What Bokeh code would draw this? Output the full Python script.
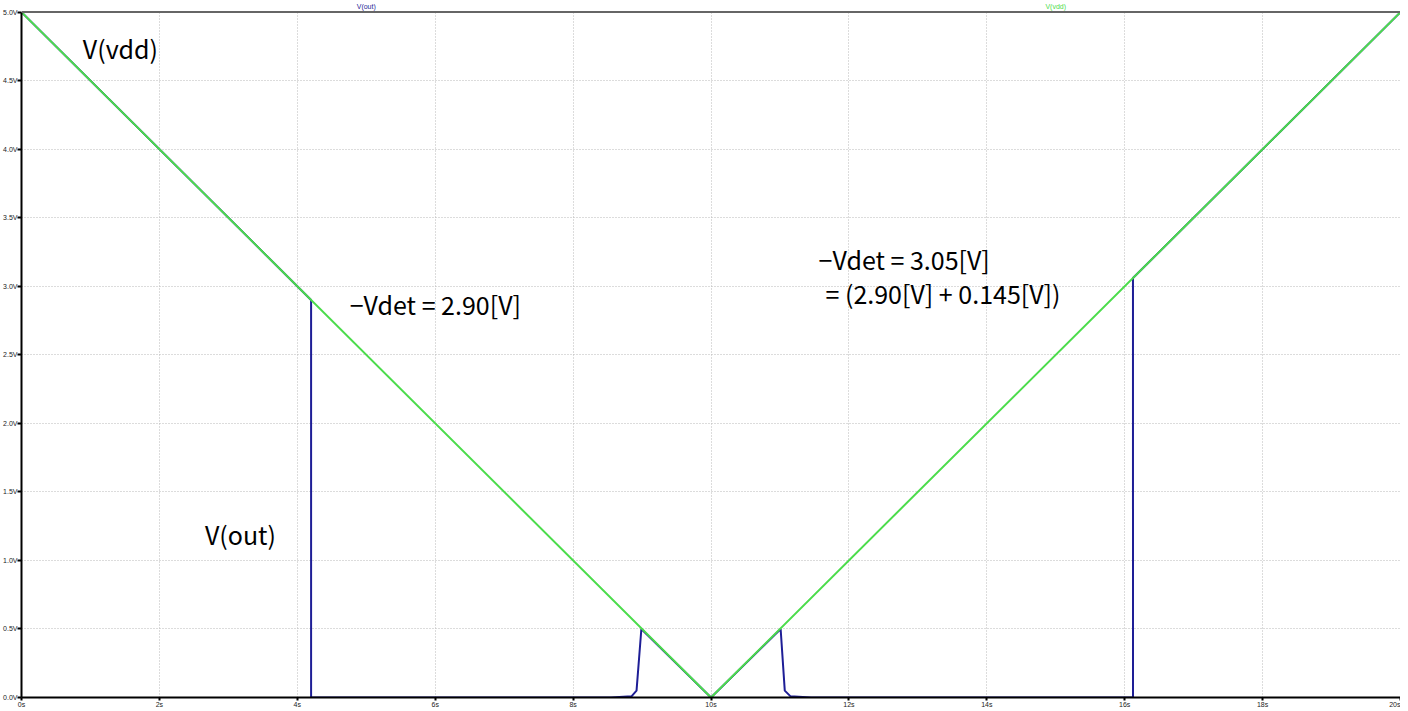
from bokeh.plotting import figure
from bokeh.models import Label, FixedTicker, Range1d, CustomJSTickFormatter, Span, BoxAnnotation
from bokeh.embed import file_html
from bokeh.resources import INLINE

# --- data ---
t_vdd = [0.0, 10.0, 20.0]
v_vdd = [5.0, 0.0, 5.0]

t_out = [0.0, 4.2, 4.2, 8.55, 8.85, 8.92, 8.99, 10.0, 11.01, 11.07, 11.15, 11.45, 16.12, 16.12, 20.0]
v_out = [5.0, 2.9, 0.0, 0.0, 0.01, 0.05, 0.5, 0.0, 0.5, 0.05, 0.01, 0.0, 0.0, 3.06, 5.0]

x_ticks = [0, 2, 4, 6, 8, 10, 12, 14, 16, 18, 20]
y_ticks = [0.0, 0.5, 1.0, 1.5, 2.0, 2.5, 3.0, 3.5, 4.0, 4.5, 5.0]

GREEN = "#4cdc4c"
BLUE = "#1e1e96"
FONT = "Noto Sans CJK JP"
Y_TOP = 5.07   # small strip above 5.0 V for the trace names

p = figure(width=1400, height=710, x_range=Range1d(0, 20), y_range=Range1d(0, Y_TOP),
           output_backend="svg", toolbar_location=None,
           min_border_left=16, min_border_right=0, min_border_top=2, min_border_bottom=10)

p.background_fill_color = "white"
p.border_fill_color = "white"
p.outline_line_color = None

for ax in (p.xaxis, p.yaxis):
    ax.axis_line_color = "black"
    ax.axis_line_width = 2
    ax.major_tick_line_color = "black"
    ax.major_tick_line_width = 2
    ax.major_tick_in = 0
    ax.minor_tick_line_color = None
    ax.major_label_text_font = "Liberation Sans"
    ax.major_label_text_font_size = "7px"
    ax.major_label_text_color = "#222222"

p.yaxis.bounds = (0, 5)
p.xaxis.ticker = FixedTicker(ticks=x_ticks)
p.yaxis.ticker = FixedTicker(ticks=y_ticks)
p.xaxis.formatter = CustomJSTickFormatter(code="return tick.toFixed(0) + 's';")
p.yaxis.formatter = CustomJSTickFormatter(code="return tick.toFixed(1) + 'V';")
p.xaxis.major_tick_out = 3
p.yaxis.major_tick_out = 4
p.xaxis.major_label_standoff = 0
p.yaxis.major_label_standoff = 0

p.grid.grid_line_color = "#b8b8b8"
p.grid.grid_line_dash = "1 2"
p.grid.grid_line_width = 1

p.line(t_out, v_out, line_color=BLUE, line_width=2)
p.line(t_vdd, v_vdd, line_color=GREEN, line_width=2)

# white header strip above the 5.0 V border, with the trace names
p.add_layout(BoxAnnotation(bottom=5.0, fill_color="white", fill_alpha=1.0, line_color=None))
p.add_layout(Span(location=5.0, dimension="width", line_color="#666666", line_width=2))
p.add_layout(Label(x=5, y=5.0, y_offset=2, text="V(out)", text_align="center", text_baseline="bottom",
                   text_font="Liberation Sans", text_font_size="7px", text_color=BLUE))
p.add_layout(Label(x=15, y=5.0, y_offset=2, text="V(vdd)", text_align="center", text_baseline="bottom",
                   text_font="Liberation Sans", text_font_size="7px", text_color=GREEN))

def note(x, y, s):
    p.add_layout(Label(x=x, y=y, text=s, text_align="left", text_baseline="middle",
                       text_font=FONT, text_font_size="25px", text_color="black"))

note(0.89, 4.735, "V(vdd)")
note(2.66, 1.19, "V(out)")
note(4.76, 2.87, "\u2212Vdet = 2.90[V]")
note(11.56, 3.20, "\u2212Vdet = 3.05[V]")
note(11.66, 2.95, "= (2.90[V] + 0.145[V])")

open("out.html", "w").write(file_html(p, INLINE))
